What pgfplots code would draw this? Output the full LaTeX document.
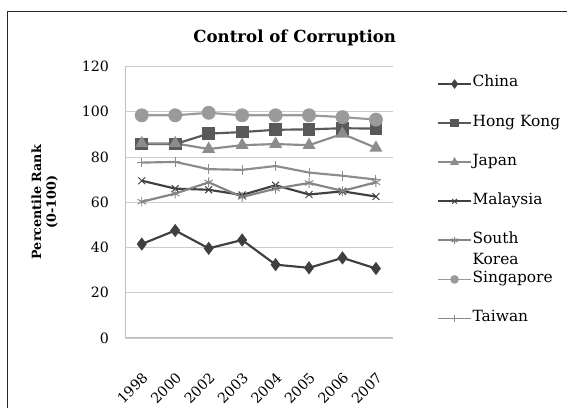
\documentclass[border=0pt]{standalone}
\usepackage{pgfplots}
\pgfplotsset{compat=1.18}
\usetikzlibrary{calc}
\usepackage{fontspec}
\setmainfont{DejaVu Serif}
\definecolor{cChina}{HTML}{404040}
\definecolor{cHK}{HTML}{595959}
\definecolor{cJapan}{HTML}{8C8C8C}
\definecolor{cMal}{HTML}{404040}
\definecolor{cKor}{HTML}{858585}
\definecolor{cSing}{HTML}{9A9A9A}
\definecolor{cTai}{HTML}{8C8C8C}
\begin{document}
\begin{tikzpicture}
\begin{axis}[
  name=ax, scale only axis,
  width=274pt, height=278pt,
  xmin=-0.5, xmax=7.5, ymin=0, ymax=120,
  ytick={0,20,...,120},
  xtick={0,...,7},
  xticklabels={1998,2000,2002,2003,2004,2005,2006,2007},
  /pgf/number format/assume math mode=true,
  axis x line*=bottom, axis y line*=left,
  axis line style={draw=black!25, line width=1pt, -},
  ymajorgrids, major grid style={draw=black!20, line width=0.9pt},
  major tick length=0pt,
  tick label style={font=\fontsize{14.5}{16}\selectfont},
  yticklabel style={xshift=-13pt},
  xticklabel style={anchor=east, xshift=6pt, yshift=-36pt, rotate=45},
  ylabel={Percentile Rank\\(0-100)},
  ylabel style={align=center, font=\bfseries\fontsize{13}{15}\selectfont,
    at={(axis description cs:-0.3,0.5)}, anchor=center},
  title={Control of Corruption},
  title style={at={(axis description cs:0.634,1.083)}, anchor=center,
    font=\bfseries\fontsize{17}{19}\selectfont},
  every axis plot/.append style={line width=2.2pt},
  legend image code/.code={
    \draw[mark repeat=2, mark phase=2, mark size=3.5pt, line width=1.8pt]
      plot coordinates {(0pt,0pt) (16.5pt,0pt) (33pt,0pt)};},
  legend cell align=left,
  legend style={at={(axis description cs:1.167,0.961)}, anchor=north west,
    draw=none, fill=none, inner sep=0pt, row sep=26pt,
    nodes={inner sep=1pt, text height=9pt, text depth=3pt,
      font=\fontsize{15.8}{18}\selectfont}},
]
\addplot[color=cChina, mark=diamond*, mark size=5pt] coordinates {
  (0,41.5) (1,47.5) (2,39.6) (3,43.3) (4,32.4) (5,31.0) (6,35.4) (7,30.7)};
\addlegendentry{China}
\addplot[color=cHK, mark=square*, mark size=5.5pt] coordinates {
  (0,85.7) (1,85.7) (2,90.3) (3,91.0) (4,92.0) (5,92.2) (6,92.7) (7,92.5)};
\addlegendentry{Hong Kong}
\addplot[color=cJapan, mark=triangle*, mark size=5.5pt] coordinates {
  (0,86.0) (1,86.0) (2,83.5) (3,85.2) (4,85.7) (5,85.2) (6,90.2) (7,84.0)};
\addlegendentry{Japan}
\addplot[color=cMal, mark=x, mark size=5pt, mark options={line width=1pt}] coordinates {
  (0,69.5) (1,66.0) (2,65.5) (3,63.2) (4,67.5) (5,63.4) (6,64.8) (7,62.5)};
\addlegendentry{Malaysia}
\addplot[color=cKor, mark=asterisk, mark size=5pt, mark options={line width=1pt}] coordinates {
  (0,60.2) (1,63.8) (2,68.8) (3,62.3) (4,66.0) (5,68.5) (6,65.0) (7,68.8)};
\addlegendentry{\begin{tabular}[t]{@{}l@{}}South\\[4pt]Korea\end{tabular}}
\addplot[color=cSing, mark=*, mark size=6pt] coordinates {
  (0,98.4) (1,98.4) (2,99.5) (3,98.4) (4,98.4) (5,98.4) (6,97.6) (7,96.5)};
\addlegendentry{Singapore}
\addplot[color=cTai, mark=+, mark size=5pt, mark options={line width=1pt}] coordinates {
  (0,77.5) (1,77.8) (2,74.6) (3,74.3) (4,76.0) (5,73.1) (6,71.7) (7,70.0)};
\addlegendentry{Taiwan}
\end{axis}
\pgfresetboundingbox
\coordinate (O) at ($(ax.south west)+(-128pt,-67pt)$);
\draw[black!85, line width=0.9pt] ($(O)+(8pt,-5pt)$) -- ($(O)+(8pt,401pt)$) -- ($(O)+(580pt,401pt)$);
\path[use as bounding box] (O) rectangle ($(O)+(567pt,413pt)$);
\end{tikzpicture}
\end{document}
